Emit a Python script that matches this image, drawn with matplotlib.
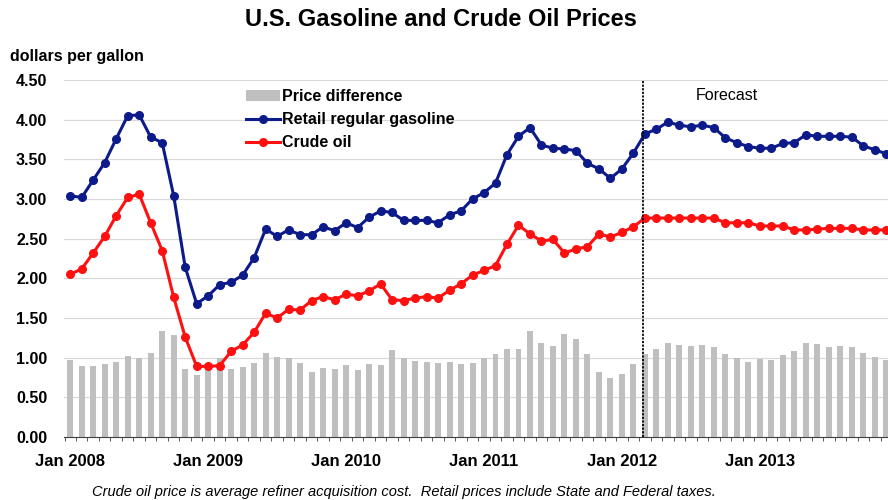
import numpy as np
import matplotlib.pyplot as plt
from matplotlib.ticker import FixedLocator, FuncFormatter

plt.rcParams['font.family'] = ['Liberation Sans', 'DejaVu Sans']

# monthly values, Jan 2008 .. Dec 2013 (history through Feb 2012, then forecast)
gasoline = [3.04, 3.02, 3.24, 3.46, 3.76, 4.05, 4.06, 3.78, 3.71, 3.04, 2.14, 1.68,
            1.78, 1.92, 1.95, 2.04, 2.26, 2.62, 2.53, 2.61, 2.55, 2.55, 2.65, 2.60,
            2.70, 2.64, 2.77, 2.85, 2.83, 2.73, 2.73, 2.73, 2.70, 2.80, 2.85, 3.00,
            3.08, 3.20, 3.56, 3.79, 3.90, 3.68, 3.64, 3.63, 3.61, 3.45, 3.38, 3.26,
            3.38, 3.58, 3.82, 3.88, 3.97, 3.93, 3.91, 3.93, 3.90, 3.77, 3.71, 3.66,
            3.64, 3.64, 3.70, 3.71, 3.81, 3.79, 3.79, 3.79, 3.78, 3.67, 3.62, 3.57]
crude = [2.05, 2.12, 2.32, 2.53, 2.79, 3.02, 3.06, 2.70, 2.35, 1.76, 1.26, 0.89,
         0.89, 0.90, 1.08, 1.16, 1.32, 1.56, 1.50, 1.61, 1.60, 1.72, 1.77, 1.73,
         1.80, 1.78, 1.84, 1.93, 1.73, 1.72, 1.75, 1.77, 1.75, 1.85, 1.93, 2.04,
         2.10, 2.16, 2.43, 2.67, 2.56, 2.47, 2.49, 2.32, 2.37, 2.40, 2.56, 2.52,
         2.58, 2.65, 2.76, 2.76, 2.76, 2.76, 2.76, 2.76, 2.76, 2.70, 2.70, 2.70,
         2.66, 2.66, 2.66, 2.61, 2.61, 2.62, 2.63, 2.63, 2.63, 2.61, 2.61, 2.61]
difference = [0.97, 0.90, 0.90, 0.92, 0.95, 1.02, 0.99, 1.06, 1.34, 1.28, 0.86, 0.78,
              0.84, 1.00, 0.86, 0.88, 0.93, 1.06, 1.01, 0.99, 0.93, 0.82, 0.87, 0.86,
              0.91, 0.85, 0.92, 0.91, 1.10, 0.99, 0.96, 0.95, 0.93, 0.94, 0.92, 0.93,
              0.99, 1.04, 1.11, 1.11, 1.33, 1.18, 1.15, 1.30, 1.24, 1.04, 0.82, 0.74,
              0.79, 0.92, 1.05, 1.11, 1.18, 1.16, 1.15, 1.16, 1.13, 1.05, 1.00, 0.95,
              0.98, 0.97, 1.03, 1.08, 1.18, 1.17, 1.14, 1.15, 1.14, 1.06, 1.01, 0.97]
year_labels = ['Jan 2008', 'Jan 2009', 'Jan 2010', 'Jan 2011', 'Jan 2012', 'Jan 2013']
forecast_start = 49.85

x = np.arange(len(gasoline))

fig = plt.figure(figsize=(8.88, 5.0), dpi=100)
ax = fig.add_axes([0.072, 0.126, 0.928, 0.714])

bars = ax.bar(x, difference, width=0.52, color='#BFBFBF', label='Price difference', zorder=2)
l1, = ax.plot(x, gasoline, color='#0D1A8A', lw=2.2, marker='o', ms=5.5, label='Retail regular gasoline', zorder=3)
l2, = ax.plot(x, crude, color='#FF1010', lw=2.2, marker='o', ms=5.5, label='Crude oil', zorder=3)

ax.axvline(forecast_start, color='black', ls=(0, (1.2, 0.8)), lw=1.3, zorder=4)
ax.text(forecast_start + 4.6, 4.30, 'Forecast', fontsize=11.5, va='center', ha='left')

ax.set_xlim(-0.55, 71.15)
ax.set_ylim(0, 4.5)
ax.set_yticks(np.arange(0, 4.51, 0.5))
ax.yaxis.set_major_formatter(FuncFormatter(lambda v, p: f'{v:.2f}'))
ax.grid(axis='y', color='#D9D9D9', lw=0.9, zorder=0)
ax.set_axisbelow(True)

ax.set_xticks(np.arange(0, 72, 12))
ax.set_xticklabels(year_labels)
ax.xaxis.set_minor_locator(FixedLocator(np.arange(-0.5, 72, 1)))
ax.tick_params(axis='x', which='major', length=0, pad=12)
ax.tick_params(axis='x', which='minor', length=3, color='#404040', direction='out')
ax.tick_params(axis='y', length=0, pad=12)
for lab in ax.get_xticklabels():
    lab.set_fontweight('bold')
    lab.set_fontsize(12)
for lab in ax.get_yticklabels():
    lab.set_fontweight('bold')
    lab.set_fontsize(11.5)

for s in ['top', 'right', 'left']:
    ax.spines[s].set_visible(False)
ax.spines['bottom'].set_color('#404040')

leg = ax.legend([bars, l1, l2], ['Price difference', 'Retail regular gasoline', 'Crude oil'],
                loc='upper left', bbox_to_anchor=(0.204, 1.014), frameon=False,
                prop={'weight': 'bold', 'size': 11.5}, handlelength=2.1,
                handletextpad=0.15, labelspacing=0.5)

fig.text(0.497, 0.962, 'U.S. Gasoline and Crude Oil Prices', ha='center', va='center',
         fontsize=17, fontweight='bold')
fig.text(0.011, 0.888, 'dollars per gallon', ha='left', va='center', fontsize=11.5, fontweight='bold')
fig.text(0.455, 0.016, 'Crude oil price is average refiner acquisition cost.  Retail prices include State and Federal taxes.',
         ha='center', va='center', fontsize=10.5, style='italic')

fig.savefig('out.png', dpi=100)
